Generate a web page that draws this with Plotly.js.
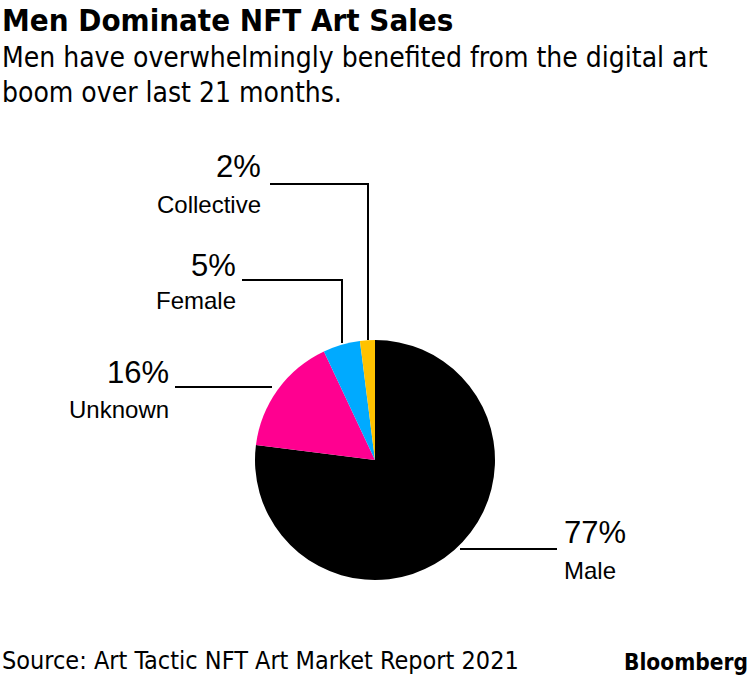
<!DOCTYPE html>
<html><head><meta charset="utf-8">
<script src="https://cdn.plot.ly/plotly-3.0.1.min.js"></script>
<style>html,body{margin:0;padding:0;background:#fff}#chart{width:750px;height:676px}</style>
</head><body><div id="chart"></div>
<script>
const categories = ["Male", "Unknown", "Female", "Collective"];
const shares = [77, 16, 5, 2];
const sliceColors = ["#000000", "#ff0090", "#00aaff", "#ffc200"];

const W = 750, H = 676;
const FONT = '"DejaVu Sans Condensed", "Liberation Sans", Arial, sans-serif';
const LFONT = '"Liberation Sans", Arial, sans-serif';
const px = x => x / W, py = y => 1 - y / H;

// label placement (positions only)
const labelPos = {
  "Collective": {x: 263, y1: 166, y2: 204, anchor: "right", line: [[270,184],[368,184],[368,340]]},
  "Female":     {x: 238, y1: 265, y2: 300, anchor: "right", line: [[242,280],[342,280],[342,343]]},
  "Unknown":    {x: 171, y1: 372, y2: 409, anchor: "right", line: [[175,387],[272,387]]},
  "Male":       {x: 562, y1: 532, y2: 570, anchor: "left",  line: [[460,549],[557,549]]}
};

const annotations = [];
const shapes = [];
categories.forEach((c, i) => {
  const p = labelPos[c];
  annotations.push({xref:"paper", yref:"paper", x:px(p.x), y:py(p.y1), xanchor:p.anchor, yanchor:"middle",
    text: shares[i] + "%", showarrow:false, font:{family:LFONT, size:31, color:"#000"}});
  annotations.push({xref:"paper", yref:"paper", x:px(p.x), y:py(p.y2), xanchor:p.anchor, yanchor:"middle",
    text: c, showarrow:false, font:{family:LFONT, size:24, color:"#000"}});
  const pts = p.line;
  let path = "M" + px(pts[0][0]) + "," + py(pts[0][1]);
  for (let k = 1; k < pts.length; k++) path += " L" + px(pts[k][0]) + "," + py(pts[k][1]);
  shapes.push({type:"path", xref:"paper", yref:"paper", path:path, line:{color:"#000", width:2}});
});

annotations.push({xref:"paper", yref:"paper", x:0, y:py(20), xanchor:"left", yanchor:"middle",
  text:"<b>Men Dominate NFT Art Sales</b>", showarrow:false, font:{family:FONT, size:31, color:"#000"}});
annotations.push({xref:"paper", yref:"paper", x:0, y:py(57), xanchor:"left", yanchor:"middle",
  text:"Men have overwhelmingly benefited from the digital art", showarrow:false, font:{family:FONT, size:28, color:"#000"}});
annotations.push({xref:"paper", yref:"paper", x:0, y:py(93), xanchor:"left", yanchor:"middle",
  text:"boom over last 21 months.", showarrow:false, font:{family:FONT, size:28, color:"#000"}});
annotations.push({xref:"paper", yref:"paper", x:0, y:py(660), xanchor:"left", yanchor:"middle",
  text:"Source: Art Tactic NFT Art Market Report 2021", showarrow:false, font:{family:FONT, size:25, color:"#000"}});
annotations.push({xref:"paper", yref:"paper", x:1, y:py(662), xanchor:"right", yanchor:"middle",
  text:"<b>Bloomberg</b>", showarrow:false, font:{family:FONT, size:22.5, color:"#000"}});

const data = [{
  type:"pie", labels:categories, values:shares, sort:false, direction:"clockwise", rotation:0,
  marker:{colors:sliceColors, line:{width:0}}, textinfo:"none", hoverinfo:"none",
  domain:{x:[255/W, 495/W], y:[1-580/H, 1-340/H]}, showlegend:false
}];

const layout = {
  width:W, height:H, margin:{l:0,r:0,t:0,b:0}, paper_bgcolor:"#fff", plot_bgcolor:"#fff",
  showlegend:false, annotations:annotations, shapes:shapes
};
Plotly.newPlot("chart", data, layout, {staticPlot:true});
</script></body></html>
